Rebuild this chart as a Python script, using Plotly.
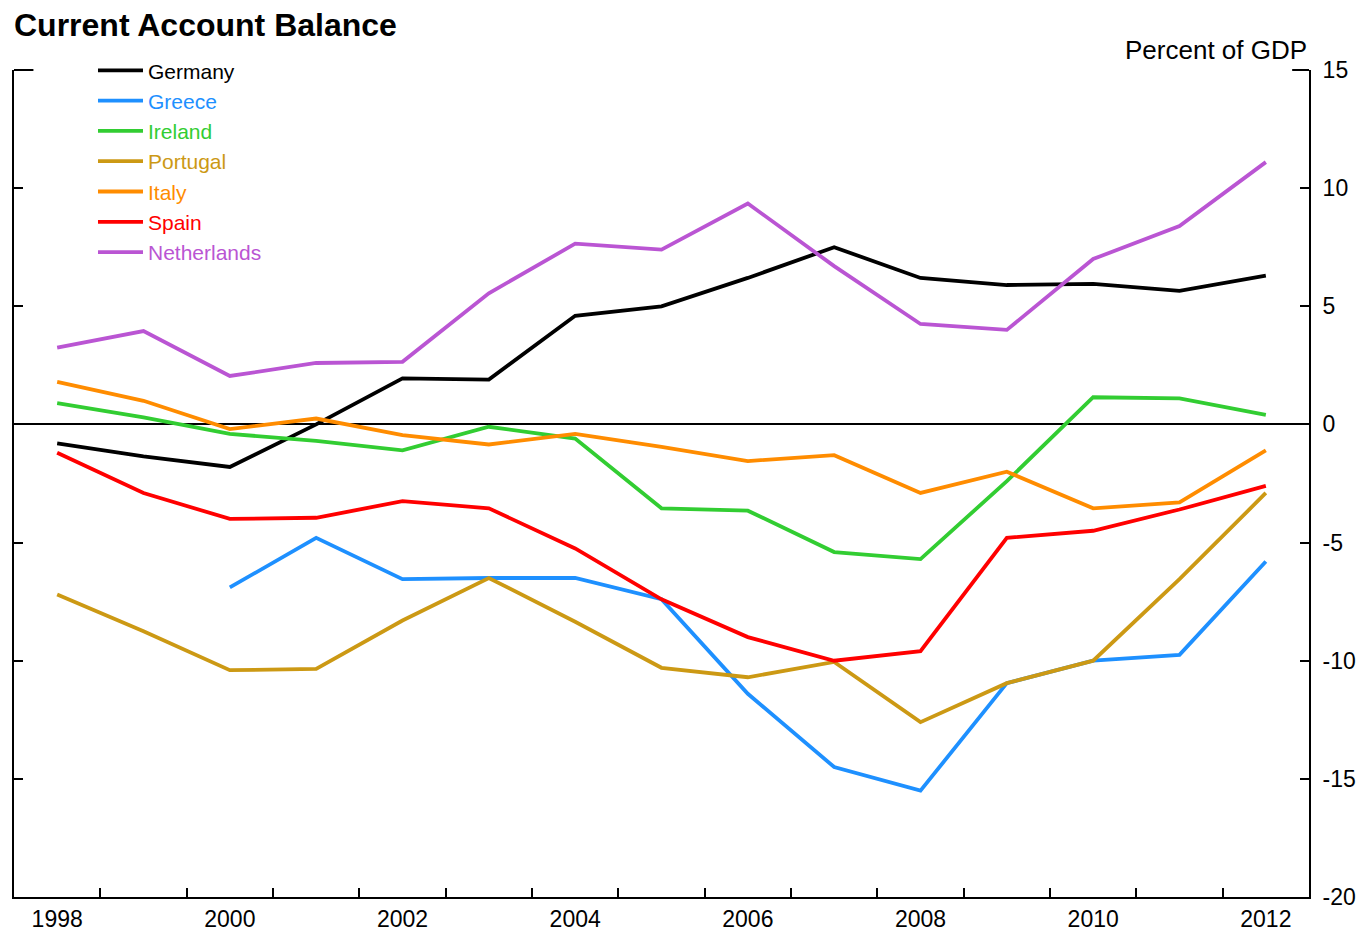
import plotly.graph_objects as go

years = list(range(1998, 2013))

germany = [-0.8, -1.35, -1.8, 0.0, 1.95, 1.9, 4.6, 5.0, 6.2, 7.5, 6.2, 5.9, 5.95, 5.65, 6.3]
greece = [None, None, -6.9, -4.8, -6.55, -6.5, -6.5, -7.4, -11.4, -14.5, -15.5, -10.95, -10.0, -9.75, -5.8]
ireland = [0.9, 0.3, -0.4, -0.7, -1.1, -0.1, -0.6, -3.55, -3.65, -5.4, -5.7, -2.4, 1.15, 1.1, 0.4]
portugal = [-7.2, -8.75, -10.4, -10.35, -8.3, -6.5, -8.35, -10.3, -10.7, -10.05, -12.6, -10.95, -10.0, -6.55, -2.9]
italy = [1.8, 1.0, -0.2, 0.25, -0.45, -0.85, -0.4, -0.95, -1.55, -1.3, -2.9, -2.0, -3.55, -3.3, -1.1]
spain = [-1.2, -2.9, -4.0, -3.95, -3.25, -3.55, -5.25, -7.4, -9.0, -10.0, -9.6, -4.8, -4.5, -3.6, -2.6]
netherlands = [3.25, 3.95, 2.05, 2.6, 2.65, 5.55, 7.65, 7.4, 9.35, 6.7, 4.25, 4.0, 7.0, 8.4, 11.1]

series = [
    ("Germany", germany, "#000000"),
    ("Greece", greece, "#1E90FF"),
    ("Ireland", ireland, "#32CD32"),
    ("Portugal", portugal, "#CC9914"),
    ("Italy", italy, "#FF8C00"),
    ("Spain", spain, "#FF0000"),
    ("Netherlands", netherlands, "#BA55D3"),
]

year_labels = [1998, 2000, 2002, 2004, 2006, 2008, 2010, 2012]
half_years = [y + 0.5 for y in range(1998, 2012)]
y_ticks = [15, 10, 5, 0, -5, -10, -15, -20]

FONT = "Liberation Sans, Arial, sans-serif"

fig = go.Figure()
for name, vals, color in series:
    fig.add_trace(go.Scatter(
        x=years, y=vals, mode="lines",
        name=f"<span style='color:{color}'>{name}</span>",
        line=dict(color=color, width=3.8),
    ))

# page body has an 8px margin, so the figure is a bit smaller than the window
fig.update_layout(
    width=1357, height=927,
    margin=dict(l=6, r=56, t=62, b=38),
    paper_bgcolor="white", plot_bgcolor="white",
    font=dict(family=FONT, size=23, color="black"),
    title=dict(text="<b>Current Account Balance</b>", x=0.0044, xanchor="left",
               y=0.982, yanchor="middle", font=dict(size=32)),
    showlegend=True,
    legend=dict(x=0.061, y=1.024, xanchor="left", yanchor="top",
                bgcolor="rgba(0,0,0,0)", font=dict(size=21), itemwidth=45),
    xaxis=dict(
        range=[1997.5, 2012.5], showgrid=False, zeroline=False, automargin=False,
        showline=True, linecolor="black", linewidth=2,
        tickmode="array", tickvals=year_labels, ticks="",
        tickfont=dict(size=23),
        minor=dict(tickmode="array", tickvals=half_years, ticks="inside",
                   ticklen=9, tickcolor="black", tickwidth=2),
    ),
    yaxis=dict(
        range=[-20, 15], side="right", showgrid=False, automargin=False,
        zeroline=True, zerolinecolor="black", zerolinewidth=1.5,
        showline=True, linecolor="black", linewidth=2, mirror="ticks",
        ticks="inside", ticklen=9, tickwidth=2, tickcolor="black",
        tickmode="array", tickvals=y_ticks, ticktext=[str(v) for v in y_ticks],
        tickfont=dict(size=23), ticklabelstandoff=7,
    ),
    annotations=[dict(text="Percent of GDP", xref="paper", yref="paper",
                      x=1.0, y=1.0, xanchor="right", yanchor="middle", yshift=20,
                      showarrow=False, font=dict(size=26))],
    shapes=[
        dict(type="line", xref="paper", yref="paper", x0=0, x1=0.015, y0=1, y1=1,
             line=dict(color="black", width=2)),
        dict(type="line", xref="paper", yref="paper", x0=0.987, x1=1, y0=1, y1=1,
             line=dict(color="black", width=2)),
    ],
)

fig.write_html("out.html")
